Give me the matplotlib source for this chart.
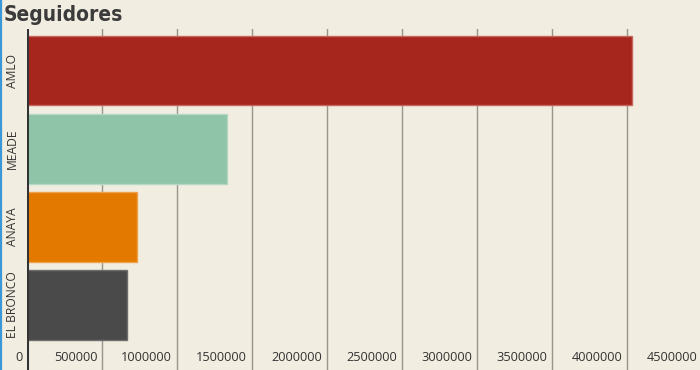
import matplotlib
matplotlib.use("Agg")
import matplotlib.pyplot as plt
import matplotlib.transforms as mtransforms
from matplotlib.lines import Line2D
from matplotlib import font_manager

categories = ["AMLO", "MEADE", "ANAYA", "EL BRONCO"]
followers = [4037000, 1333000, 733000, 669000]
bar_colors = ["#a6261e", "#8fc4a9", "#e47900", "#4a4a4a"]
edge_colors = ["#c5675f", "#b3d8c4", "#eea24c", "#6e6e6e"]
xticks = [0, 500000, 1000000, 1500000, 2000000, 2500000, 3000000, 3500000, 4000000, 4500000]
xtick_labels = [str(v) for v in xticks]

W, H = 700, 370
bg = "#f2ede1"
fig = plt.figure(figsize=(W / 100, H / 100), dpi=100, facecolor=bg)
x0, x1 = 26.7, 701.7
ytop, ybot = 29, 370
ax = fig.add_axes([x0 / W, 1 - ybot / H, (x1 - x0) / W, (ybot - ytop) / H])
ax.set_facecolor(bg)

ypos = list(range(len(categories)))
ax.barh(ypos, followers, height=0.885, color=bar_colors, edgecolor=edge_colors,
        linewidth=1, zorder=3)
ax.set_xlim(0, 4500000)
ax.set_ylim(3.833, -0.538)

for s in ax.spines.values():
    s.set_visible(False)
ax.set_xticks(xticks)
ax.set_yticks([])
ax.tick_params(axis="x", length=0, labelbottom=False)
for v in xticks[1:]:
    ax.axvline(v, color="#9a958a", lw=1, zorder=1)
ax.axvline(0, color="#333333", lw=2.2, zorder=5)

lab_font = ["Open Sans", "DejaVu Sans"]
offs = mtransforms.offset_copy(
    mtransforms.blended_transform_factory(ax.transData, ax.transAxes),
    fig=fig, x=-4.5, y=0, units="dots")
for v, lab in zip(xticks, xtick_labels):
    ax.text(v, 0.038, lab, transform=offs, ha="right", va="center",
            fontsize=9.2, color="#333333", family=lab_font)

ytrans = mtransforms.blended_transform_factory(fig.transFigure, ax.transData)
for y, c in zip(ypos, categories):
    ax.text(12.5 / W, y, c, transform=ytrans, rotation=90, ha="center",
            va="center", fontsize=8.7, color="#333333", family=lab_font)

# condensed bold title font if available
title_fp = None
for f in font_manager.fontManager.ttflist:
    if f.fname.endswith("DejaVuSansCondensed-Bold.ttf"):
        title_fp = font_manager.FontProperties(fname=f.fname, size=15)
        break
if title_fp is None:
    title_fp = font_manager.FontProperties(family=["DejaVu Sans"], weight="bold",
                                           stretch="condensed", size=15)
fig.text(4 / W, 1 - 21 / H, "Seguidores", ha="left", va="baseline",
         fontproperties=title_fp, color="#3b3b3b")

fig.add_artist(Line2D([0.8 / W, 0.8 / W], [0, 1], transform=fig.transFigure,
                      color="#3a98d8", lw=1.6))

fig.savefig("out.png", dpi=100, facecolor=bg)
